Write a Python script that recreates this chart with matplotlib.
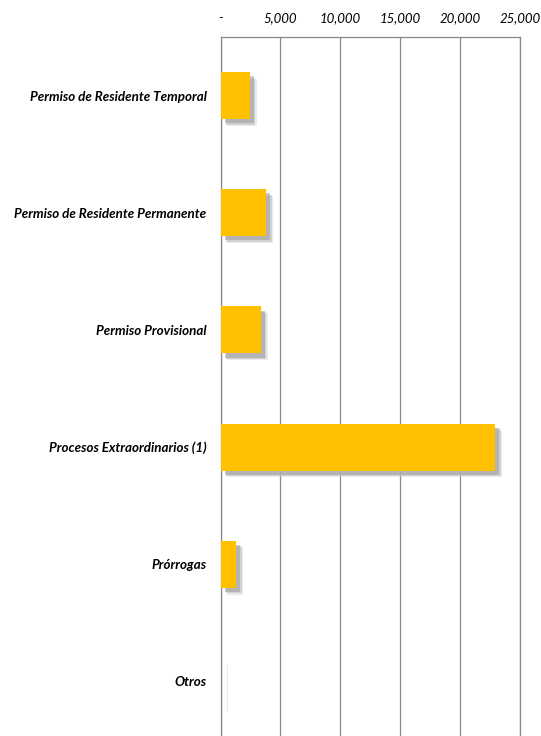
import matplotlib.pyplot as plt
import matplotlib.patheffects as pe
from matplotlib.ticker import FuncFormatter

categorias = ['Permiso de Residente Temporal', 'Permiso de Residente Permanente',
              'Permiso Provisional', 'Procesos Extraordinarios (1)', 'Prórrogas', 'Otros']
valores = [2450, 3820, 3350, 22920, 1290, 20]
ticks = [0, 5000, 10000, 15000, 20000, 25000]

fig = plt.figure(figsize=(5.41, 7.36), dpi=100)
ax = fig.add_axes([220.5 / 541, -4 / 736, 299.5 / 541, 703 / 736])

y = list(range(len(categorias)))
# sombra difusa hecha con varias capas
shadow = [pe.SimplePatchShadow(offset=(5, -5), shadow_rgbFace='#d8d8d8', alpha=0.5),
          pe.SimplePatchShadow(offset=(4, -4), shadow_rgbFace='#b8b8b8', alpha=0.5),
          pe.SimplePatchShadow(offset=(3, -3), shadow_rgbFace='#999999', alpha=0.5),
          pe.Normal()]
bars = ax.barh(y, valores, height=0.4, color='#FFC000', zorder=3)
for b in bars:
    b.set_path_effects(shadow)

ax.set_xlim(0, 25000)
ax.set_ylim(len(categorias) - 0.5, -0.5)
ax.set_xticks(ticks)
ax.xaxis.set_major_formatter(FuncFormatter(lambda v, p: '-' if v == 0 else f'{int(v):,}'))
ax.xaxis.tick_top()
ax.tick_params(axis='x', length=0, pad=9, labelsize=9.5)
ax.tick_params(axis='y', length=0, pad=10)
for t in ax.get_xticklabels():
    t.set_fontstyle('italic')
    t.set_fontfamily('Lato')
ax.set_yticks(y)
ax.set_yticklabels(categorias, fontsize=9.6, fontweight='bold', fontstyle='italic', fontfamily='Lato')
ax.grid(axis='x', color='#888888', linewidth=0.9, zorder=0)
for s in ['top', 'left', 'right']:
    ax.spines[s].set_color('#888888')
    ax.spines[s].set_linewidth(0.9)
ax.spines['bottom'].set_visible(False)

fig.savefig('out.png', dpi=100)
